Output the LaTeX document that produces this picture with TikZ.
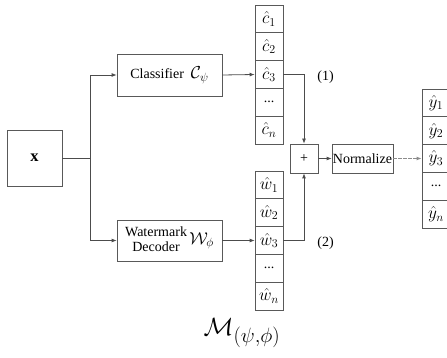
\documentclass[tikz,border=0pt]{standalone}
\usepackage{fontspec}
\setmainfont{Liberation Serif}
\usetikzlibrary{arrows.meta}
\newcommand\mth[1]{{\fontsize{16.5}{17}\selectfont$#1$}}
\tikzset{
  base/.style={font=\fontsize{14}{17}\selectfont},
  box/.style={base, draw=black!65, line width=0.8pt, inner sep=0pt},
  cell/.style={box, minimum width=28pt, minimum height=27.8pt},
  conn/.style={draw=black!70, line width=0.8pt},
  arr/.style={conn, -{Latex[length=5pt,width=4pt]}},
  darr/.style={draw=black!45, line width=0.9pt, dash pattern=on 4pt off 1pt, -{Latex[length=5pt,width=4pt]}},
}
\begin{document}
\begin{tikzpicture}[x=1pt,y=-1pt]
\useasboundingbox (0,0) rectangle (447,358);
% input
\node[box, minimum width=55pt, minimum height=56pt] (x) at (34.5,158) {\mth{\mathbf{x}}};
% classifier and decoder
\node[box, minimum width=105pt, minimum height=42pt] (cls) at (169.5,75) {Classifier\ \ \mth{\mathcal{C}_\psi}};
\node[box, minimum width=105pt, minimum height=41pt] (wm) at (169.5,240.5)
  {\begin{tabular}{@{}c@{}}Watermark\\[-2pt]Decoder\end{tabular}\,\mth{\mathcal{W}_\phi}};
% c column
\node[cell] (c1) at (269,18.9) {\mth{\hat{c}_1}};
\node[cell] (c2) at (269,46.7) {\mth{\hat{c}_2}};
\node[cell] (c3) at (269,74.5) {\mth{\hat{c}_3}};
\node[cell] (c4) at (269,102.3) {...};
\node[cell] (c5) at (269,130.1) {\mth{\hat{c}_n}};
% w column
\node[cell] (w1) at (269,184.9) {\mth{\hat{w}_1}};
\node[cell] (w2) at (269,212.7) {\mth{\hat{w}_2}};
\node[cell] (w3) at (269,240.5) {\mth{\hat{w}_3}};
\node[cell] (w4) at (269,268.3) {...};
\node[cell] (w5) at (269,296.1) {\mth{\hat{w}_n}};
% y column
\node[cell] (y1) at (436,102.9) {\mth{\hat{y}_1}};
\node[cell] (y2) at (436,130.7) {\mth{\hat{y}_2}};
\node[cell] (y3) at (436,158.5) {\mth{\hat{y}_3}};
\node[cell] (y4) at (436,186.3) {...};
\node[cell] (y5) at (436,214.1) {\mth{\hat{y}_n}};
% plus and normalize
\node[box, minimum width=28pt, minimum height=29pt] (plus) at (304,158.5) {+};
\node[box, minimum width=61pt, minimum height=29pt] (norm) at (362.5,158.5) {Normalize};
% labels
\node[base] (l1) at (325.5,77) {(1)};
\node[base] (l2) at (325.5,243) {(2)};
\node[font=\fontsize{28}{32}\selectfont] (M) at (242,333) {$\mathcal{M}_{(\psi,\phi)}$};
% connectors
\coordinate (j) at (90,158);
\draw[conn] (x.east) -- (j);
\draw[arr] (j) |- (cls.west);
\draw[arr] (j) |- (wm.west);
\draw[arr] (cls.east) -- (c3.west);
\draw[arr] (wm.east) -- (w3.west);
\draw[arr] (c3.east) -| (plus.north);
\draw[arr] (w3.east) -| (plus.south);
\draw[arr] (plus.east) -- (norm.west);
\draw[darr] (norm.east) -- (y3.west);
\end{tikzpicture}
\end{document}
